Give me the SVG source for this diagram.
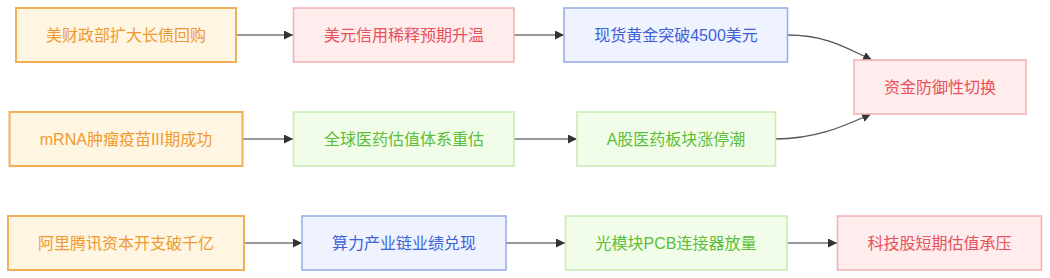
<svg xmlns="http://www.w3.org/2000/svg" width="1050" height="278" viewBox="0 0 1050 278">
<style>
text{font-family:"Liberation Sans","Noto Sans CJK SC",sans-serif;font-size:16px;text-anchor:middle;dominant-baseline:central}
.o rect{fill:#fff5e3;stroke:#f0b05a;stroke-width:2}
.o text{fill:#ee9a2f}
.p rect{fill:#ffecec;stroke:#f4b3b3;stroke-width:1.6}
.p text{fill:#e8505b}
.b rect{fill:#eef3ff;stroke:#98aee8;stroke-width:1.6}
.b text{fill:#3f62d8}
.g rect{fill:#f1fde8;stroke:#c9edb4;stroke-width:1.6}
.g text{fill:#5cbd3a}
#edges path{fill:none;stroke:#777;stroke-width:1.6}
#edges path.c{stroke:#555;stroke-width:1.3}
</style>
<defs>
<marker id="ah" viewBox="0 0 10 10" refX="10" refY="5" markerUnits="userSpaceOnUse" markerWidth="9" markerHeight="9" orient="auto">
<path d="M0,0 L10,5 L0,10 z" fill="#333"/>
</marker>
</defs>
<rect width="1050" height="278" fill="#fff"/>
<g id="edges">
<path d="M236,35 L293,35" marker-end="url(#ah)"/>
<path d="M514,35 L564,35" marker-end="url(#ah)"/>
<path class="c" d="M787,35 C828,35 848,49 872,60" marker-end="url(#ah)"/>
<path d="M242,139 L293,139" marker-end="url(#ah)"/>
<path d="M514,139 L577,139" marker-end="url(#ah)"/>
<path class="c" d="M775,139 C818,139 846,125 871,114" marker-end="url(#ah)"/>
<path d="M244,243 L302,243" marker-end="url(#ah)"/>
<path d="M506,243 L565,243" marker-end="url(#ah)"/>
<path d="M787,243 L837,243" marker-end="url(#ah)"/>
</g>
<g id="n1" class="o"><rect x="16" y="8" width="220" height="54"/><text x="126" y="35">美财政部扩大长债回购</text></g>
<g id="n2" class="p"><rect x="293.5" y="8" width="220.5" height="54"/><text x="404" y="35">美元信用稀释预期升温</text></g>
<g id="n3" class="b"><rect x="564" y="8" width="223.5" height="54"/><text x="676" y="35">现货黄金突破4500美元</text></g>
<g id="n4" class="p"><rect x="854" y="60" width="172" height="54"/><text x="940" y="87">资金防御性切换</text></g>
<g id="n5" class="o"><rect x="9.5" y="112" width="233" height="54"/><text x="126" y="139">mRNA肿瘤疫苗III期成功</text></g>
<g id="n6" class="g"><rect x="293.5" y="112" width="220.5" height="54"/><text x="404" y="139">全球医药估值体系重估</text></g>
<g id="n7" class="g"><rect x="577" y="112" width="198.5" height="54"/><text x="676" y="139">A股医药板块涨停潮</text></g>
<g id="n8" class="o"><rect x="8" y="216" width="236" height="54"/><text x="126" y="243">阿里腾讯资本开支破千亿</text></g>
<g id="n9" class="b"><rect x="302" y="216" width="204" height="54"/><text x="404" y="243">算力产业链业绩兑现</text></g>
<g id="n10" class="g"><rect x="565.5" y="216" width="221.5" height="54"/><text x="676" y="243">光模块PCB连接器放量</text></g>
<g id="n11" class="p"><rect x="837.5" y="216" width="204" height="54"/><text x="939.5" y="243">科技股短期估值承压</text></g>
</svg>
